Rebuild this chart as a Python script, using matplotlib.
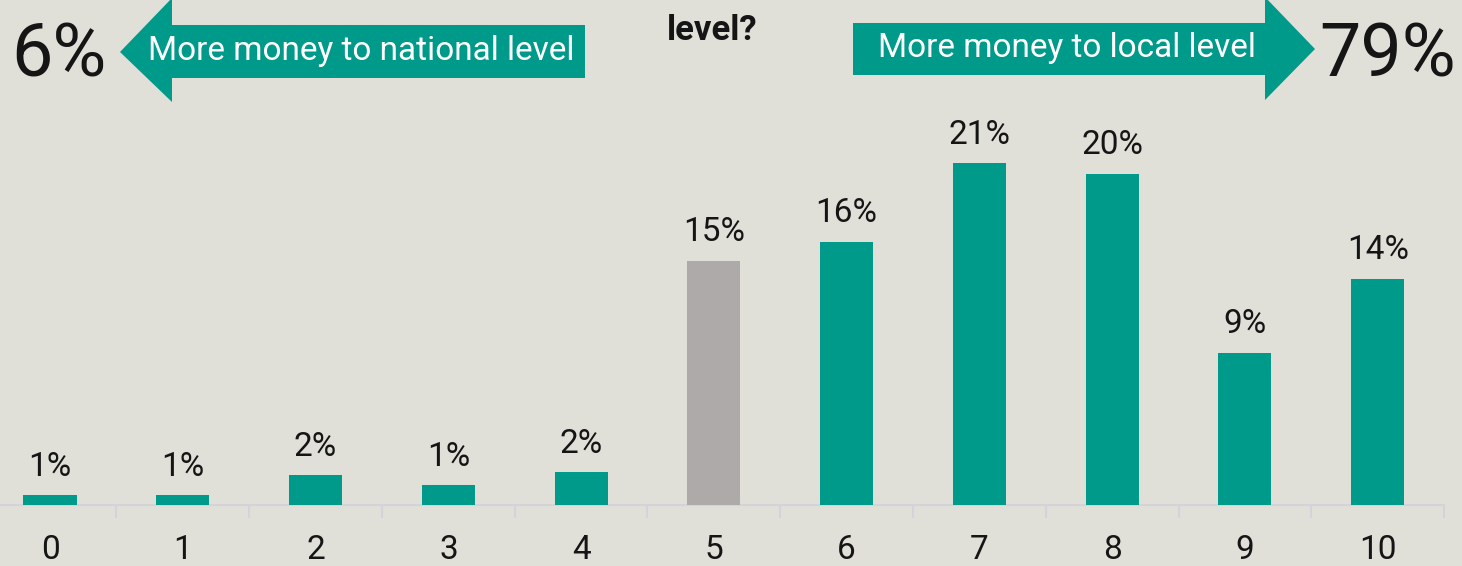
import matplotlib
matplotlib.use("Agg")
import matplotlib.pyplot as plt
from matplotlib.patches import Polygon

# ---- data ----
categories = ["0", "1", "2", "3", "4", "5", "6", "7", "8", "9", "10"]
values = [0.6, 0.6, 1.8, 1.2, 2.0, 14.9, 16.05, 20.85, 20.2, 9.3, 13.8]
value_labels = ["1%", "1%", "2%", "1%", "2%", "15%", "16%", "21%", "20%", "9%", "14%"]
neutral_category = "5"
left_total = "6%"
right_total = "79%"
left_text = "More money to national level"
right_text = "More money to local level"
title_tail = "level?"

BG = "#e0e0d9"
TEAL = "#009a8b"
GRAY = "#adaaa9"
TXT = "#151515"
LINE = "#d3d3d9"

plt.rcParams["font.family"] = ["Roboto", "DejaVu Sans"]

W, H = 1462, 566
fig = plt.figure(figsize=(W / 100, H / 100), dpi=100, facecolor=BG)

def fx(px):
    return px / W

def fy(py):
    return 1 - py / H

base_px = 505
ax = fig.add_axes([0, (H - base_px) / H, 1, base_px / H])
ax.set_facecolor(BG)
x = list(range(len(categories)))
colors = [GRAY if c == neutral_category else TEAL for c in categories]
ax.bar(x, values, width=0.40, color=colors, zorder=3)

for xi, v, lab in zip(x, values, value_labels):
    ax.annotate(lab, (xi, v), xytext=(0, 14), textcoords="offset points",
                ha="center", va="baseline", fontsize=24, color=TXT)

for s in ["top", "left", "right"]:
    ax.spines[s].set_visible(False)
ax.spines["bottom"].set_color(LINE)
ax.spines["bottom"].set_linewidth(1.5)
ax.spines["bottom"].set_bounds(-0.5, 10.5)
ax.set_yticks([])
ax.set_xticks(x)
ax.set_xticklabels(categories, fontsize=24, color=TXT)
ax.tick_params(axis="x", which="major", length=0, pad=21)
ax.set_xticks([i + 0.5 for i in range(-1, len(categories))], minor=True)
ax.tick_params(axis="x", which="minor", length=9, width=1.5, color=LINE, direction="out")
ax.set_xlim(-0.377, 10.635)
ax.set_ylim(0, 30.8)

# ---- arrows ----
def poly(pts, color):
    p = Polygon([(fx(a), fy(b)) for a, b in pts], closed=True,
                transform=fig.transFigure, facecolor=color, edgecolor="none")
    fig.patches.append(p)

poly([(120, 52), (172, -2), (172, 25), (585, 25), (585, 78), (172, 78), (172, 102)], TEAL)
poly([(853, 23), (1265, 23), (1265, -3), (1315, 49), (1265, 100), (1265, 75), (853, 75)], TEAL)

fig.text(fx(361), fy(51), left_text, ha="center", va="center", fontsize=24,
         color="white")
fig.text(fx(1067), fy(48), right_text, ha="center", va="center", fontsize=24,
         color="white")
fig.text(fx(11), fy(56), left_total, ha="left", va="center", fontsize=53, color=TXT)
fig.text(fx(1456), fy(56), right_total, ha="right", va="center", fontsize=53, color=TXT)
fig.text(fx(712), fy(30), title_tail, ha="center", va="center", fontsize=25,
         fontweight="bold", color=TXT)

fig.savefig("out.png", dpi=100, facecolor=BG)
